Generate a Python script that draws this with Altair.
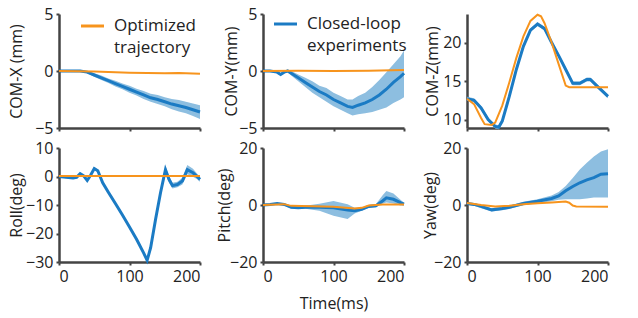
import altair as alt
import pandas as pd

BLUE = "#1B7BC4"
BAND = "#8DBEE0"
ORANGE = "#F7941D"
AX = "#444444"
FONT = "Open Sans"

# ---------------- COM-X ----------------
t_x = [0, 10, 20, 30, 40, 50, 60, 70, 80, 90, 100, 110, 120, 130, 140, 150, 160, 170, 180, 190, 200]
blue_x = [0, 0, 0, 0, -0.1, -0.35, -0.6, -0.85, -1.1, -1.35, -1.6, -1.85, -2.1, -2.35, -2.5, -2.7, -2.9, -3.05, -3.2, -3.4, -3.6]
lo_x = [0, 0, 0, -0.05, -0.2, -0.5, -0.8, -1.05, -1.35, -1.6, -1.9, -2.15, -2.45, -2.7, -2.9, -3.1, -3.35, -3.55, -3.7, -3.95, -4.2]
hi_x = [0, 0, 0, 0.05, 0.0, -0.2, -0.4, -0.65, -0.85, -1.1, -1.3, -1.55, -1.75, -2.0, -2.1, -2.3, -2.45, -2.55, -2.7, -2.85, -3.0]
to_x = [0, 50, 100, 150, 170, 200]
or_x = [0, -0.05, -0.15, -0.2, -0.17, -0.25]

# ---------------- COM-Y ----------------
t_y = [0, 10, 20, 25, 30, 35, 40, 50, 60, 70, 80, 90, 100, 110, 120, 127, 135, 145, 155, 165, 175, 185, 195, 200]
blue_y = [0, 0, -0.1, -0.3, -0.1, 0, -0.2, -0.6, -1.0, -1.4, -1.8, -2.1, -2.5, -2.8, -3.1, -3.2, -3.0, -2.8, -2.5, -2.1, -1.6, -1.0, -0.5, -0.2]
lo_y = [0, 0, -0.2, -0.4, -0.2, -0.1, -0.4, -0.9, -1.4, -1.9, -2.3, -2.7, -3.1, -3.4, -3.7, -3.9, -3.8, -3.7, -3.6, -3.4, -3.2, -2.8, -2.5, -2.3]
hi_y = [0, 0, 0.0, -0.2, 0.0, 0.1, 0.0, -0.3, -0.6, -0.9, -1.3, -1.5, -1.9, -2.2, -2.5, -2.5, -2.2, -1.9, -1.4, -0.8, -0.1, 0.6, 1.3, 1.8]
to_y = [0, 50, 100, 150, 200]
or_y = [0, 0.02, 0.0, 0.02, 0.08]

# ---------------- COM-Z ----------------
t_z = [0, 10, 20, 30, 40, 45, 50, 60, 70, 80, 90, 100, 110, 120, 130, 140, 150, 160, 170, 175, 185, 200]
blue_z = [12.7, 12.5, 11.5, 10.0, 9.1, 9.0, 9.8, 13.0, 16.5, 19.5, 21.6, 22.4, 21.8, 20.0, 18.3, 16.5, 14.7, 14.7, 15.2, 15.2, 14.3, 13.0]
lo_z = [v - 0.25 for v in blue_z]
hi_z = [v + 0.25 for v in blue_z]
to_z = [0, 10, 20, 25, 35, 40, 50, 60, 70, 80, 90, 100, 105, 110, 120, 130, 140, 145, 200]
or_z = [12.7, 12.0, 10.2, 9.4, 9.3, 9.6, 11.8, 14.8, 18.0, 20.8, 22.8, 23.6, 23.4, 22.5, 20.0, 17.2, 14.4, 14.2, 14.2]

# ---------------- Roll ----------------
t_r = [0, 10, 20, 25, 30, 35, 40, 45, 50, 55, 62, 70, 80, 90, 100, 110, 120, 125, 130, 137, 144, 151, 156, 161, 168, 175, 182, 190, 196, 200]
blue_r = [0, -0.3, -0.5, -0.3, 1.0, 0.2, -1.4, 0.5, 2.8, 2.0, -2.2, -5.5, -9.5, -13.5, -17.7, -22.0, -26.8, -29.4, -25.0, -15.0, -5.7, 2.4, -1.0, -3.2, -2.8, -1.6, 2.4, 1.3, 0, -1.0]
w_r = [0.3, 0.3, 0.3, 0.3, 0.4, 0.4, 0.4, 0.4, 0.5, 0.5, 0.5, 0.5, 0.5, 0.5, 0.5, 0.5, 0.6, 0.6, 0.6, 0.8, 1.0, 1.4, 1.2, 1.0, 1.0, 1.2, 1.6, 1.4, 1.0, 0.8]
to_r = [0, 50, 100, 150, 200]
or_r = [0.2, 0.2, 0.2, 0.2, 0.2]

# ---------------- Pitch ----------------
t_p = [0, 10, 20, 30, 40, 50, 60, 80, 100, 120, 130, 140, 150, 160, 170, 175, 185, 195, 200]
blue_p = [0, 0.2, 0.5, 0.2, -0.8, -1.0, -0.8, -0.8, -1.0, -1.8, -2.0, -1.5, -0.5, -0.3, 1.5, 2.5, 2.0, 0.8, 0.3]
lo_p = [-0.2, 0.0, 0.2, -0.1, -1.2, -1.4, -1.3, -2.0, -3.8, -4.9, -3.0, -2.0, -1.0, -0.8, 0.5, 0.9, 0.5, -0.2, -0.2]
hi_p = [0.2, 0.4, 0.8, 0.5, -0.4, -0.6, -0.3, 0.4, 1.4, 0.3, -1.0, -1.0, 0.0, 0.3, 3.5, 4.9, 4.0, 1.8, 0.8]
to_p = [0, 30, 40, 100, 130, 140, 150, 170, 200]
or_p = [0, 0.3, -0.3, -0.6, -1.2, -1.0, -0.2, 0.2, 0.2]

# ---------------- Yaw ----------------
t_w = [0, 10, 20, 35, 50, 60, 80, 100, 120, 130, 140, 150, 160, 170, 180, 190, 200]
blue_w = [0.5, 0.2, -0.5, -1.7, -1.2, -0.8, 0.5, 1.3, 2.3, 3.2, 5.0, 6.5, 7.8, 8.8, 9.6, 10.8, 11.0]
lo_w = [0.1, -0.3, -1.1, -2.3, -1.8, -1.4, -0.1, 0.6, 1.3, 1.8, 2.0, 2.0, 2.0, 2.3, 2.6, 2.6, 2.6]
hi_w = [0.9, 0.7, 0.1, -1.1, -0.6, -0.2, 1.1, 2.0, 3.3, 4.6, 6.7, 9.5, 12.5, 14.8, 17.0, 18.8, 19.6]
to_w = [0, 20, 40, 60, 80, 100, 120, 140, 145, 150, 155, 200]
or_w = [0.7, 0.0, -0.5, -0.3, 0.3, 0.6, 0.9, 1.2, 0.8, -0.2, -0.5, -0.6]

W, H = 141, 114


def panel(t, mean, lo, hi, to, orr, ydom, yticks, ytitle, title_off, bottom, xtitle=None, extra=None):
    d_b = pd.DataFrame({"t": t, "m": mean, "lo": lo, "hi": hi})
    d_o = pd.DataFrame({"t": to, "v": orr})
    xaxis = alt.Axis(
        values=[0, 100, 200], labels=bottom, title=xtitle if xtitle else None,
        labelFontSize=16, titleFontSize=16, titlePadding=11, labelOverlap=False,
    )
    yaxis = alt.Axis(
        values=yticks, title=ytitle, titleX=-title_off, titleY=H / 2,
        titleBaseline="middle", titleAngle=-90, titleFontSize=16, labelFontSize=16,
        labelOverlap=False, labelSeparation=0,
    )
    xsc = alt.Scale(domain=[0, 200], nice=False)
    ys = alt.Scale(domain=ydom, nice=False, zero=False)
    band = alt.Chart(d_b).mark_area(color=BAND, opacity=1).encode(
        x=alt.X("t:Q", scale=xsc, axis=xaxis), y=alt.Y("lo:Q", scale=ys, axis=yaxis), y2="hi:Q")
    bl = alt.Chart(d_b).mark_line(color=BLUE, strokeWidth=3).encode(
        x=alt.X("t:Q", scale=xsc, axis=xaxis), y=alt.Y("m:Q", scale=ys, axis=yaxis))
    ol = alt.Chart(d_o).mark_line(color=ORANGE, strokeWidth=2).encode(
        x=alt.X("t:Q", scale=xsc, axis=xaxis), y=alt.Y("v:Q", scale=ys, axis=yaxis))
    layers = [band, bl, ol]
    if extra:
        layers += extra
    return alt.layer(*layers).properties(width=W, height=H)


def legend(color, lines, x0, y0):
    rule = alt.Chart(pd.DataFrame({"a": [0]})).mark_rule(color=color, strokeWidth=3).encode(
        x=alt.value(x0), x2=alt.value(x0 + 23), y=alt.value(y0))
    txt = alt.Chart(pd.DataFrame({"s": lines, "i": [0, 1]})).mark_text(
        align="left", baseline="middle", fontSize=17, font=FONT, color="#222"
    ).encode(x=alt.value(x0 + 33), y=alt.value(y0), text="s:N",
             yOffset=alt.YOffset("i:Q", scale=alt.Scale(domain=[0, 1], range=[0, 22])))
    return [rule, txt]


p1 = panel(t_x, blue_x, lo_x, hi_x, to_x, or_x, [-5, 5], [-5, 0, 5], "COM-X (mm)", 43, False,
           extra=legend(ORANGE, ["Optimized", "trajectory"], 22, 12))
p2 = panel(t_y, blue_y, lo_y, hi_y, to_y, or_y, [-5, 5], [-5, 0, 5], "COM-Y(mm)", 32, False,
           extra=legend(BLUE, ["Closed-loop", "experiments"], 11, 10))
p3 = panel(t_z, blue_z, lo_z, hi_z, to_z, or_z, [8.9, 23.7], [10, 15, 20], "COM-Z(mm)", 35, False)
p4 = panel(t_r, blue_r, [b - w for b, w in zip(blue_r, w_r)], [b + w for b, w in zip(blue_r, w_r)],
           to_r, or_r, [-30, 10], [-30, -20, -10, 0, 10], "Roll(deg)", 43, True)
p5 = panel(t_p, blue_p, lo_p, hi_p, to_p, or_p, [-20, 20], [-20, 0, 20], "Pitch(deg)", 39, True, xtitle="Time(ms)")
p6 = panel(t_w, blue_w, lo_w, hi_w, to_w, or_w, [-20, 20], [-20, 0, 20], "Yaw(deg)", 37, True)

chart = alt.concat(p1, p2, p3, p4, p5, p6, columns=3,
                   spacing=alt.RowColnumber(row=20, column=63), bounds="flush").properties(
    padding={"left": 7, "top": 6, "right": 5, "bottom": 2}
).configure_view(stroke=None).configure_axis(
    grid=False, domainColor=AX, domainWidth=2.5, tickColor=AX, tickWidth=2, tickSize=3,
    labelFont=FONT, titleFont=FONT, labelColor="#222", titleColor="#222",
    titleFontWeight="normal", labelPadding=3, labelOverlap=False,
).configure_axisY(labelOverlap=False)

chart.save("out.html", embed_options={"renderer": "svg", "actions": False})
